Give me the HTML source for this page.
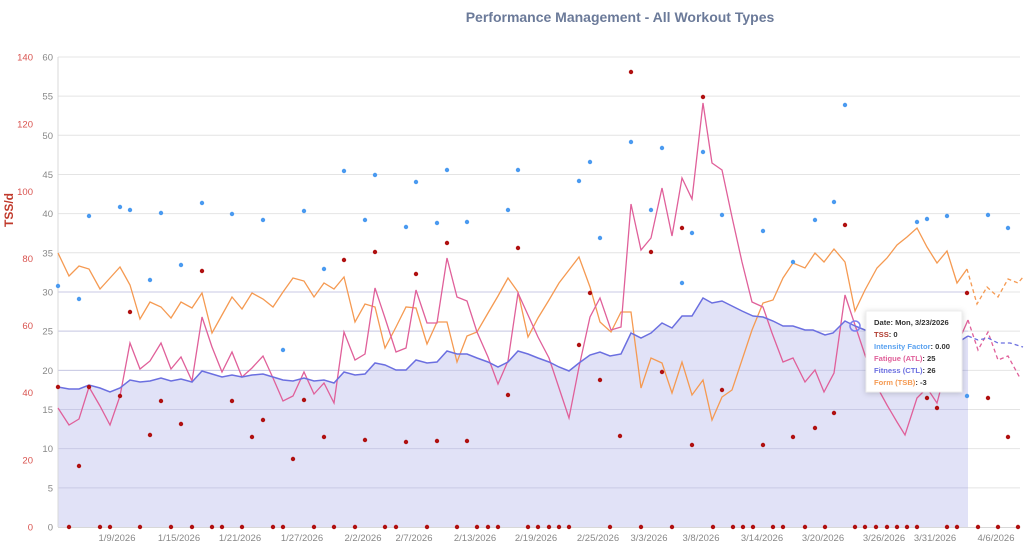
<!DOCTYPE html>
<html><head><meta charset="utf-8"><style>
html,body{margin:0;padding:0;background:#fff;width:1024px;height:550px;overflow:hidden;font-family:"Liberation Sans",sans-serif}
</style></head><body>
<svg width="1024" height="550" viewBox="0 0 1024 550" xmlns="http://www.w3.org/2000/svg" font-family="Liberation Sans, sans-serif">
<text x="620" y="22" text-anchor="middle" font-size="14" font-weight="bold" fill="#6b7a99">Performance Management - All Workout Types</text>
<text transform="translate(13,210) rotate(-90)" text-anchor="middle" font-size="12" font-weight="bold" fill="#c0392b">TSS/d</text>
<g id="grid" stroke="#e4e4e4" stroke-width="1"></g>
<polygon id="fill" fill="#dfe0f7" opacity="0.95"></polygon>
<g id="grid2" stroke="#c9cae6" stroke-width="1"></g>
<line x1="58" y1="57" x2="58" y2="527" stroke="#d8d8d8"/>
<line x1="58" y1="527.5" x2="1020" y2="527.5" stroke="#d8d8d8"/>
<g id="ylab" font-size="9.5" fill="#888" text-anchor="end"></g>
<g id="tlab" font-size="9.5" fill="#d9534f" text-anchor="end"></g>
<g id="xlab" font-size="9.5" fill="#888" text-anchor="middle"></g>
<polyline id="tsb" fill="none" stroke="#f59a52" stroke-width="1.3"/>
<polyline id="tsbd" fill="none" stroke="#f59a52" stroke-width="1.3" stroke-dasharray="4,3"/>
<polyline id="atl" fill="none" stroke="#e0609a" stroke-width="1.3"/>
<polyline id="atld" fill="none" stroke="#e0609a" stroke-width="1.3" stroke-dasharray="4,3"/>
<polyline id="ctl" fill="none" stroke="#6b6fe0" stroke-width="1.5"/>
<polyline id="ctld" fill="none" stroke="#6b6fe0" stroke-width="1.3" stroke-dasharray="4,3"/>
<g id="dots"></g>
<circle cx="855" cy="326" r="5" fill="none" stroke="#7b7ff0" stroke-width="1.5"/>
<g>
<rect x="866" y="311" width="96" height="81" fill="#fff" stroke="#eee" style="filter:drop-shadow(0 1px 3px rgba(0,0,0,0.18))"/>
<g font-size="7.6" font-weight="bold">
<text x="874" y="325" fill="#333">Date: Mon, 3/23/2026</text>
<text x="874" y="337"><tspan fill="#b03a2e">TSS</tspan><tspan fill="#333">: 0</tspan></text>
<text x="874" y="349"><tspan fill="#5aa2f0">Intensity Factor</tspan><tspan fill="#333">: 0.00</tspan></text>
<text x="874" y="361"><tspan fill="#e0609a">Fatigue (ATL)</tspan><tspan fill="#333">: 25</tspan></text>
<text x="874" y="373"><tspan fill="#6b6fe0">Fitness (CTL)</tspan><tspan fill="#333">: 26</tspan></text>
<text x="874" y="385"><tspan fill="#f59a52">Form (TSB)</tspan><tspan fill="#333">: -3</tspan></text>
</g></g>
</svg>
<script>
var NS="http://www.w3.org/2000/svg";
function el(p,t,a,txt){var e=document.createElementNS(NS,t);for(var k in a)e.setAttribute(k,a[k]);if(txt!=null)e.textContent=txt;document.getElementById(p).appendChild(e);}
for(var k=1;k<=12;k++){var y=527-k*39.17;el('grid','line',{x1:58,x2:1020,y1:y,y2:y});if(y>290)el('grid2','line',{x1:58,x2:968,y1:y,y2:y});}
for(var k=0;k<=12;k++){el('ylab','text',{x:53,y:527-k*39.17+3.5},String(k*5));}
for(var k=0;k<=7;k++){el('tlab','text',{x:33,y:527-k*67.14+3.5},String(k*20));}
var xl=[[119,"1/9/2026"],[181,"1/15/2026"],[242,"1/21/2026"],[304,"1/27/2026"],[365,"2/2/2026"],[416,"2/7/2026"],[477,"2/13/2026"],[538,"2/19/2026"],[600,"2/25/2026"],[651,"3/3/2026"],[703,"3/8/2026"],[764,"3/14/2026"],[825,"3/20/2026"],[886,"3/26/2026"],[937,"3/31/2026"],[998,"4/6/2026"]];
xl.forEach(function(a){el('xlab','text',{x:a[0]-2,y:541},a[1]);});
var ctl="58,387 69,389 79,389 89,385 100,388 110,392 120,388 130,380 140,382 150,381 161,378 171,381 181,379 192,382 202,371 212,374 222,377 232,375 242,377 252,375 263,374 273,377 283,380 293,381 304,378 314,381 324,380 334,383 344,372 355,375 365,374 375,363 385,365 396,370 406,370 416,360 427,363 437,362 447,351 457,354 467,354 477,358 488,362 498,367 508,362 518,351 528,354 538,358 549,362 559,367 569,371 579,363 590,355 600,352 610,356 621,354 631,333 641,338 651,333 662,323 672,328 682,316 692,316 703,298 712,303 722,301 732,306 742,311 753,316 763,317 773,321 783,326 793,326 805,330 813,330 825,335 833,333 845,321 855,326 865,330 876,333 887,334 897,336 907,337 917,338 927,339 937,340 947,342 957,343 968,336";
document.getElementById('ctl').setAttribute('points',ctl);
document.getElementById('fill').setAttribute('points',ctl+" 968,527 58,527");
document.getElementById('ctld').setAttribute('points',"968,336 978,340 988,338 998,343 1010,343 1023,347");
document.getElementById('atl').setAttribute('points',"58,408 69,425 79,419 89,387 100,406 110,425 120,396 130,343 140,369 150,361 161,343 171,369 181,357 192,381 202,317 212,347 222,372 232,352 242,377 252,368 263,356 273,378 283,401 293,396 304,372 314,394 324,383 334,403 344,332 355,360 365,354 375,288 385,318 396,352 406,348 416,290 427,323 437,323 447,258 457,297 467,301 477,332 488,357 498,384 508,361 518,293 528,315 538,337 549,358 559,388 569,418 579,367 590,317 600,298 611,330 621,327 631,204 641,250 651,238 662,188 672,236 682,178 692,199 703,103 712,163 722,170 732,217 742,262 752,302 763,307 772,333 783,362 793,358 805,382 815,370 824,392 834,373 845,295 855,325 865,355 876,385 887,405 897,422 905,435 917,398 927,388 937,403 947,365 957,345 968,320");
document.getElementById('atld').setAttribute('points',"968,320 978,350 988,332 998,360 1008,356 1020,378");
document.getElementById('tsb').setAttribute('points',"58,253 69,276 79,266 89,269 100,289 110,278 120,267 130,285 140,319 150,302 161,307 171,318 181,302 192,308 202,293 212,333 222,315 232,297 242,309 252,293 263,299 273,307 283,292 293,278 304,281 314,297 324,283 334,289 344,277 355,322 365,304 375,307 385,348 396,327 406,307 416,308 427,344 437,322 447,322 457,362 467,336 477,332 488,313 498,296 508,278 518,292 528,337 538,318 549,300 559,283 569,270 579,257 590,287 600,322 611,332 621,312 631,312 641,388 651,358 662,363 672,393 682,362 692,395 703,380 712,420 722,397 732,390 742,360 752,330 763,303 773,300 783,278 793,263 805,268 815,253 824,262 834,249 845,262 855,311 865,290 877,268 887,258 897,245 907,237 917,228 927,247 937,263 947,251 957,283 967,269");
document.getElementById('tsbd').setAttribute('points',"967,269 977,304 987,287 998,297 1008,279 1018,283 1024,276");
var tss=[[58,387],[69,527],[79,466],[89,387],[100,527],[110,527],[120,396],[130,312],[140,527],[150,435],[161,401],[171,527],[181,424],[192,527],[202,271],[212,527],[222,527],[232,401],[242,527],[252,437],[263,420],[273,527],[283,527],[293,459],[304,400],[314,527],[324,437],[334,527],[344,260],[355,527],[365,440],[375,252],[385,527],[396,527],[406,442],[416,274],[427,527],[437,441],[447,243],[457,527],[467,441],[477,527],[488,527],[498,527],[508,395],[518,248],[528,527],[538,527],[549,527],[559,527],[569,527],[579,345],[590,293],[600,380],[610,527],[620,436],[631,72],[641,527],[651,252],[662,372],[672,527],[682,228],[692,445],[703,97],[713,527],[722,390],[733,527],[743,527],[753,527],[763,445],[773,527],[783,527],[793,437],[805,527],[815,428],[825,527],[834,413],[845,225],[855,527],[865,527],[876,527],[887,527],[897,527],[907,527],[917,527],[927,398],[937,408],[947,527],[957,527],[967,293],[978,527],[988,398],[998,527],[1008,437],[1018,527]];
var ifd=[[58,286],[79,299],[89,216],[120,207],[130,210],[150,280],[161,213],[181,265],[202,203],[232,214],[263,220],[283,350],[304,211],[324,269],[344,171],[365,220],[375,175],[406,227],[416,182],[437,223],[447,170],[467,222],[508,210],[518,170],[579,181],[590,162],[600,238],[631,142],[651,210],[662,148],[682,283],[692,233],[703,152],[722,215],[763,231],[793,262],[815,220],[834,202],[845,105],[917,222],[927,219],[947,216],[967,396],[988,215],[1008,228]];
ifd.forEach(function(p){el('dots','circle',{cx:p[0],cy:p[1],r:2.2,fill:'#4a9af0'});});
tss.forEach(function(p){el('dots','circle',{cx:p[0],cy:p[1],r:2.2,fill:'#b01010'});});
</script>
</body></html>
